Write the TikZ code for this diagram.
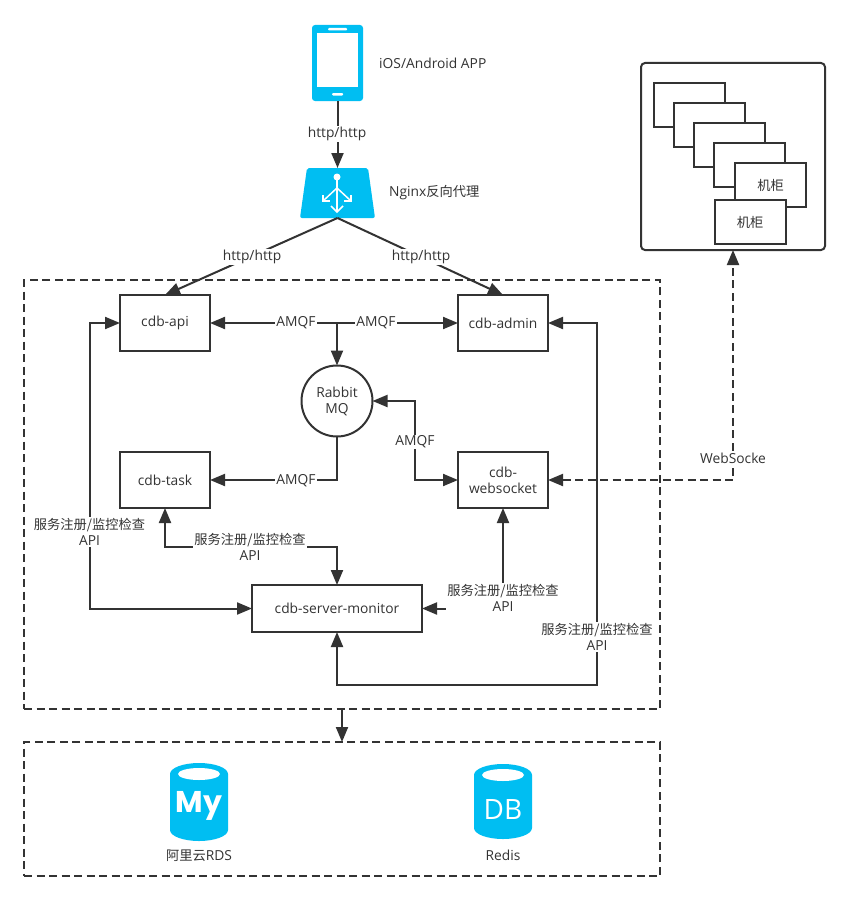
\documentclass[tikz,border=0pt]{standalone}
\usepackage{fontspec}
\setmainfont{Open Sans}
\newfontfamily\cjk[Scale=0.96]{Noto Sans CJK SC}
\newfontfamily\heavy{Poppins}
\usetikzlibrary{arrows.meta}
\definecolor{ink}{HTML}{333333}
\definecolor{iconblue}{HTML}{00BEF2}
\newcommand{\dbicon}[4]{
    \fill[iconblue] (#1 - 29, #2) arc[start angle=180, end angle=0, x radius=29pt, y radius=11pt] -- (#1 + 29, #3) arc[start angle=0, end angle=-180, x radius=29pt, y radius=11pt] -- cycle;
    \fill[white] (#1, #4) ellipse (21pt and 6pt);
}
\tikzset{
    box/.style={draw=ink, line width=2pt, fill=white, inner sep=0pt, outer sep=0pt, align=center, text=ink, font=\fontsize{13.8}{16}\selectfont, minimum width=90pt, minimum height=56pt},
    rack/.style={box, minimum width=71pt, minimum height=44pt},
    tag/.style={fill=white, inner sep=1pt, align=center, text=ink, font=\fontsize{13.8}{16}\selectfont},
    plain/.style={inner sep=0pt, align=center, text=ink, font=\fontsize{13.8}{16}\selectfont},
    group/.style={draw=ink, line width=2pt, dash pattern=on 8pt off 4.5pt, inner sep=0pt, outer sep=0pt},
    link/.style={draw=ink, line width=2pt, -{Triangle[length=15pt,width=12pt]}},
    twolink/.style={link, {Triangle[length=15pt,width=12pt]}-{Triangle[length=15pt,width=12pt]}},
}
\begin{document}
\begin{tikzpicture}[x=1pt, y=-1pt]
    \useasboundingbox (0, 0) rectangle (849, 899);
    \fill[white] (0, 0) rectangle (849, 899);

    \node[group, minimum width=636pt, minimum height=429pt] (core) at (342, 494.5) {};
    \node[group, minimum width=636pt, minimum height=134pt] (store) at (342, 809) {};

    % phone
    \node[fill=iconblue, rounded corners=3pt, inner sep=0pt, outer sep=0pt, minimum width=51pt, minimum height=76pt] (phone) at (337.5, 63) {};
    \fill[white] (317, 33) rectangle (358, 87);
    \fill[white, rounded corners=1pt] (328, 28) rectangle (347, 30.5);
    \fill[white, rounded corners=1pt] (332, 93) rectangle (343, 95.5);
    \node[plain, anchor=west] (phonetxt) at (379, 63) {iOS/Android APP};

    % nginx
    \node[inner sep=0pt, outer sep=0pt, minimum width=75pt, minimum height=50pt] (nginx) at (337.5, 193) {};
    \fill[iconblue, rounded corners=2pt] (307, 168) -- (368, 168) -- (375, 218) -- (300, 218) -- cycle;
    \fill[white] (337, 177) circle (3.5pt);
    \draw[white, line width=1.5pt] (337, 177) -- (337, 211);
    \draw[white, line width=1.5pt] (323, 201) -- (337, 188) -- (351, 201);
    \draw[white, line width=1.5pt] (331, 206) -- (337, 212) -- (343, 206);
    \draw[white, line width=1.5pt] (323, 195) -- (323, 201) -- (330, 201);
    \draw[white, line width=1.5pt] (351, 195) -- (351, 201) -- (344, 201);
    \node[plain, anchor=west] (nginxtxt) at (389, 193) {Nginx{\cjk 反向代理}};

    % services
    \node[box] (api) at (165, 323) {cdb-api};
    \node[box] (admin) at (503, 323) {cdb-admin};
    \node[box] (task) at (165, 480) {cdb-task};
    \node[box] (websocket) at (503, 480) {cdb-\\websocket};
    \node[box, minimum width=170pt, minimum height=47pt] (monitor) at (337, 608.5) {cdb-server-monitor};
    \node[box, shape=circle, minimum width=71pt, minimum height=71pt] (mq) at (337, 401) {Rabbit\\MQ};

    % cabinets
    \node[draw=ink, line width=2pt, rounded corners=4pt, inner sep=0pt, outer sep=0pt, minimum width=184pt, minimum height=187pt] (cabinet) at (733, 156.5) {};
    \foreach \i in {0,...,3} {
        \node[rack] (rack\i) at (689.5 + 20 * \i, 105 + 20 * \i) {};
    };
    \node[rack] (rack4) at (770.5, 185) {{\cjk 机柜}};
    \node[rack] (rack5) at (750, 222) {{\cjk 机柜}};

    % databases
    \dbicon{199}{774}{830}{774}
    \node[text=white, inner sep=0pt, font=\fontsize{30}{30}\bfseries\heavy] (my) at (199, 806) {My};
    \dbicon{503}{775}{828}{775}
    \node[text=white, inner sep=0pt, font=\fontsize{28}{28}\selectfont] (dbtxt) at (503, 809) {DB};
    \node[plain] (rdstxt) at (199, 856) {{\cjk 阿里云}RDS};
    \node[plain] (redistxt) at (503, 855) {Redis};

    % connectors
    \draw[link] (phone.south) -- (nginx.north);
    \draw[link] (nginx.south) -- (api.north);
    \draw[link] (nginx.south) -- (admin.north);
    \draw[twolink] (api.east) -- (admin.west);
    \draw[link] (337, 323) -- (mq.north);
    \draw[link] (mq.south) |- (task.east);
    \draw[twolink] (mq.east) -| (415, 440) |- (websocket.west);
    \draw[twolink] (api.west) -| (90, 450) |- (monitor.west);
    \draw[twolink] (task.south) |- (250, 547) -| (monitor.north);
    \draw[twolink] (monitor.east) -| (websocket.south);
    \draw[twolink] (monitor.south) |- (597, 685) |- (admin.east);
    \draw[twolink, dash pattern=on 8pt off 4.5pt] (websocket.east) -| (cabinet.south);
    \draw[link] (core.south) -- (store.north);

    % labels on the lines
    \node[tag] (l1) at (337, 134) {http/http};
    \node[tag] (l2) at (252, 257) {http/http};
    \node[tag] (l3) at (421, 257) {http/http};
    \node[tag] (l4) at (296, 323) {AMQF};
    \node[tag] (l5) at (376, 323) {AMQF};
    \node[tag] (l6) at (296, 481) {AMQF};
    \node[tag] (l7) at (415, 442) {AMQF};
    \node[tag] (l8) at (733, 458) {WebSocke};
    \node[tag] (l9) at (89.5, 532) {{\cjk 服务注册/监控检查}\\API};
    \node[tag] (l10) at (250, 547) {{\cjk 服务注册/监控检查}\\API};
    \node[tag] (l11) at (503, 598) {{\cjk 服务注册/监控检查}\\API};
    \node[tag] (l12) at (597, 637) {{\cjk 服务注册/监控检查}\\API};
\end{tikzpicture}
\end{document}
